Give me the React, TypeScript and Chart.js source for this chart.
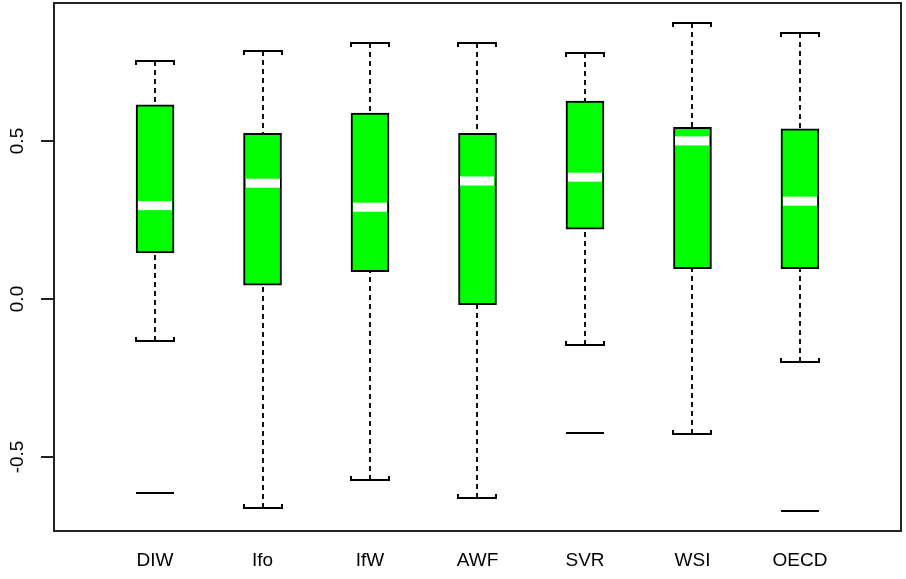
import React, { useEffect, useRef } from "react";
import { Chart, registerables } from "chart.js";

Chart.register(...registerables);

// Forecast institutes and their five-number summaries
const categories = ["DIW", "Ifo", "IfW", "AWF", "SVR", "WSI", "OECD"];
const whiskerLow = [-0.132, -0.661, -0.574, -0.63, -0.147, -0.428, -0.199];
const lowerQuartile = [0.146, 0.044, 0.087, -0.018, 0.221, 0.096, 0.096];
const medians = [0.296, 0.367, 0.291, 0.374, 0.386, 0.501, 0.31];
const upperQuartile = [0.615, 0.525, 0.589, 0.525, 0.627, 0.544, 0.539];
const whiskerHigh = [0.754, 0.787, 0.812, 0.812, 0.78, 0.875, 0.842];
const outliers: number[][] = [[-0.614], [], [], [], [-0.424], [], [-0.671]];

const yTicks = [-0.5, 0, 0.5];
const yTickLabels = ["-0.5", "0.0", "0.5"];

const BOX_WIDTH = 38;
const FONT = '19px "Liberation Sans", Arial, sans-serif';

const boxplotExtras = {
  id: "boxplotExtras",
  afterDatasetsDraw(chart: any) {
    const { ctx, chartArea, scales } = chart;
    const xs = scales.x;
    const ys = scales.y;
    const half = BOX_WIDTH / 2;
    const hook = 4;

    const seg = (x1: number, y1: number, x2: number, y2: number) => {
      ctx.beginPath();
      ctx.moveTo(x1, y1);
      ctx.lineTo(x2, y2);
      ctx.stroke();
    };

    ctx.save();
    ctx.lineCap = "butt";
    categories.forEach((_, i) => {
      const cx = Math.round(xs.getPixelForValue(i + 1));
      const yHi = Math.round(ys.getPixelForValue(whiskerHigh[i]));
      const yQ3 = ys.getPixelForValue(upperQuartile[i]);
      const yMed = ys.getPixelForValue(medians[i]);
      const yQ1 = ys.getPixelForValue(lowerQuartile[i]);
      const yLo = Math.round(ys.getPixelForValue(whiskerLow[i]));

      // dashed whiskers
      ctx.strokeStyle = "#111";
      ctx.lineWidth = 2;
      ctx.setLineDash([5, 4]);
      seg(cx, yHi, cx, yQ3);
      seg(cx, yLo, cx, yQ1);
      ctx.setLineDash([]);

      // staples with short end hooks turned toward the box
      ctx.strokeStyle = "#000";
      ctx.beginPath();
      ctx.moveTo(cx - half, yHi + hook);
      ctx.lineTo(cx - half, yHi);
      ctx.lineTo(cx + half, yHi);
      ctx.lineTo(cx + half, yHi + hook);
      ctx.stroke();
      ctx.beginPath();
      ctx.moveTo(cx - half, yLo - hook);
      ctx.lineTo(cx - half, yLo);
      ctx.lineTo(cx + half, yLo);
      ctx.lineTo(cx + half, yLo - hook);
      ctx.stroke();

      // median band
      ctx.fillStyle = "#ffffff";
      ctx.fillRect(cx - half + 2, yMed - 4.5, BOX_WIDTH - 4, 9);

      // outlying values
      outliers[i].forEach((v) => {
        const oy = Math.round(ys.getPixelForValue(v));
        seg(cx - half, oy, cx + half, oy);
      });
    });

    // plot frame
    ctx.strokeStyle = "#222";
    ctx.lineWidth = 2;
    ctx.strokeRect(
      chartArea.left,
      chartArea.top,
      chartArea.right - chartArea.left,
      chartArea.bottom - chartArea.top
    );

    // y axis ticks and rotated labels
    ctx.fillStyle = "#000";
    ctx.font = FONT;
    yTicks.forEach((t, k) => {
      const ty = Math.round(ys.getPixelForValue(t));
      seg(chartArea.left - 13, ty, chartArea.left, ty);
      ctx.save();
      ctx.translate(23, ty);
      ctx.rotate(-Math.PI / 2);
      ctx.textAlign = "center";
      ctx.textBaseline = "alphabetic";
      ctx.fillText(yTickLabels[k], 0, 0);
      ctx.restore();
    });

    // category labels
    ctx.textAlign = "center";
    ctx.textBaseline = "alphabetic";
    categories.forEach((c, i) => {
      const cx = xs.getPixelForValue(i + 1);
      ctx.fillText(c, cx, chartArea.bottom + 35);
    });
    ctx.restore();
  },
};

export default function App() {
  const canvasRef = useRef<HTMLCanvasElement | null>(null);

  useEffect(() => {
    const canvas = canvasRef.current;
    if (!canvas) return;
    const chart = new Chart(canvas, {
      type: "bar",
      data: {
        datasets: [
          {
            data: categories.map((_, i) => ({
              x: i + 1,
              y: [lowerQuartile[i], upperQuartile[i]],
            })) as any,
            backgroundColor: "#00ff00",
            borderColor: "#000000",
            borderWidth: 2,
            borderSkipped: false,
            barThickness: BOX_WIDTH,
            grouped: false,
          } as any,
        ],
      },
      options: {
        animation: false,
        responsive: false,
        devicePixelRatio: 1,
        layout: { padding: { left: 54, top: 3, right: 5, bottom: 48 } },
        plugins: {
          legend: { display: false },
          tooltip: { enabled: false },
        },
        scales: {
          x: {
            type: "linear",
            min: 0.06,
            max: 7.94,
            offset: false,
            display: false,
          },
          y: { type: "linear", min: -0.735, max: 0.938, display: false },
        },
      },
      plugins: [boxplotExtras],
    });
    return () => chart.destroy();
  }, []);

  return (
    <div
      style={{
        position: "fixed",
        left: 0,
        top: 0,
        width: 906,
        height: 579,
        background: "#ffffff",
      }}
    >
      <canvas ref={canvasRef} width={906} height={579} />
    </div>
  );
}
